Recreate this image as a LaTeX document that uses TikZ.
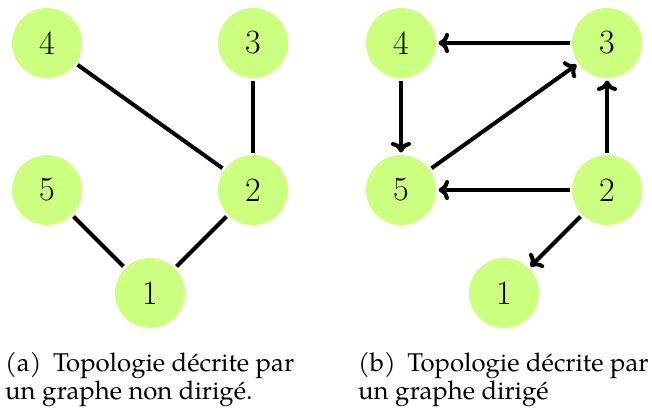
\documentclass[tikz,border=0pt]{standalone}
\usepackage{fontspec}
\setmainfont{TeX Gyre Pagella}
\newfontfamily\lmfont{Latin Modern Roman}
\usetikzlibrary{arrows.meta}
\definecolor{nodegreen}{RGB}{204,255,128}
\begin{document}
\begin{tikzpicture}[x=1pt,y=-1pt,
  vertex/.style={circle,fill=nodegreen,minimum size=70pt,inner sep=0pt,outer sep=2.5pt,font=\lmfont\fontsize{34}{36}\selectfont},
  edge/.style={line width=4pt},
  arc/.style={edge,-{To[length=10.5pt,width=20pt]}},
  captext/.style={anchor=base west,align=left,font=\fontsize{25.7}{28}\selectfont,inner sep=0pt}]
\useasboundingbox (0,0) rectangle (652,408);
% left graph
\node[vertex] (a4) at (47,43) {4};
\node[vertex] (a3) at (253,43) {3};
\node[vertex] (a5) at (47,190) {5};
\node[vertex] (a2) at (253,190) {2};
\node[vertex] (a1) at (150,293) {1};
\draw[edge] (a4) -- (a2);
\draw[edge] (a3) -- (a2);
\draw[edge] (a5) -- (a1);
\draw[edge] (a2) -- (a1);
% right graph
\node[vertex] (b4) at (401,43) {4};
\node[vertex] (b3) at (607,43) {3};
\node[vertex] (b5) at (401,190) {5};
\node[vertex] (b2) at (607,190) {2};
\node[vertex] (b1) at (504,293) {1};
\draw[arc] (b3) -- (b4);
\draw[arc] (b4) -- (b5);
\draw[arc] (b5) -- (b3);
\draw[arc] (b2) -- (b3);
\draw[arc] (b2) -- (b5);
\draw[arc] (b2) -- (b1);
% captions
\node[captext] (ca) at (5,371) {(a)\hspace{0.45em}Topologie décrite par};
\node[captext] (ca2) at (5,399) {un graphe non dirigé.};
\node[captext] (cb) at (358,371) {(b)\hspace{0.45em}Topologie décrite par};
\node[captext] (cb2) at (358,399) {un graphe dirigé};
\end{tikzpicture}
\end{document}
